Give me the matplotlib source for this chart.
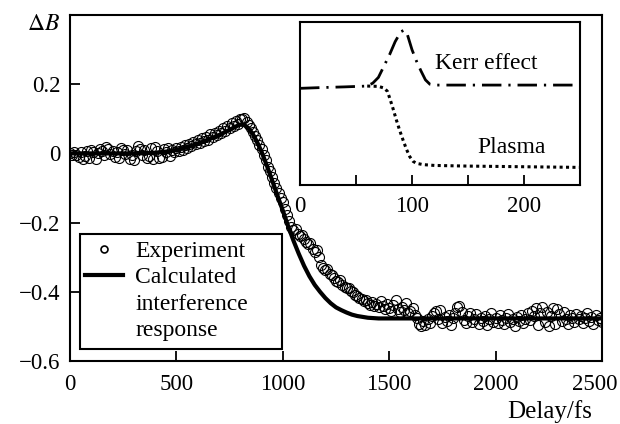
import matplotlib
matplotlib.use("Agg")
import matplotlib.pyplot as plt
from matplotlib.lines import Line2D
from matplotlib.patches import Rectangle
from matplotlib.transforms import ScaledTranslation

plt.rcParams['font.family'] = ['Liberation Serif', 'DejaVu Serif']
plt.rcParams['mathtext.fontset'] = 'stix'

# ---------------- data ----------------
exp_x = list(range(0, 2501, 10))
exp_y = [
    # 0 - 500
    0.002, -0.006, 0.005, -0.004, -0.010, 0.003, -0.015, -0.008, 0.006, -0.012,
    0.010, 0.004, -0.016, 0.002, 0.014, 0.008, -0.005, 0.018, 0.012, -0.003,
    0.006, -0.010, 0.004, -0.014, 0.016, 0.009, -0.002, 0.011, -0.015, -0.006,
    -0.018, 0.007, 0.020, 0.012, -0.004, 0.010, -0.012, -0.008, 0.015, -0.016,
    0.019, 0.006, -0.014, -0.009, 0.012, 0.003, 0.015, -0.008, 0.009, 0.004,
    0.016,
    # 510 - 800
    0.006, 0.018, 0.010, 0.024, 0.015, 0.028, 0.020, 0.034, 0.026, 0.038,
    0.030, 0.044, 0.035, 0.048, 0.040, 0.055, 0.046, 0.060, 0.052, 0.066,
    0.058, 0.072, 0.065, 0.080, 0.072, 0.088, 0.078, 0.095, 0.085, 0.100,
    # 810 - 1000
    0.098, 0.102, 0.090, 0.082, 0.072, 0.062, 0.050, 0.038, 0.025, 0.012,
    -0.005, -0.020, -0.038, -0.052, -0.068, -0.085, -0.100, -0.115, -0.128, -0.140,
    # 1010 - 1400
    -0.160, -0.178, -0.195, -0.212, -0.222, -0.218, -0.232, -0.240, -0.236, -0.248,
    -0.255, -0.262, -0.258, -0.275, -0.285, -0.280, -0.300, -0.322, -0.330, -0.338,
    -0.335, -0.348, -0.352, -0.360, -0.368, -0.372, -0.365, -0.380, -0.385, -0.390,
    -0.388, -0.398, -0.402, -0.408, -0.412, -0.418, -0.422, -0.428, -0.425, -0.432,
    # 1410 - 1700
    -0.438, -0.430, -0.442, -0.436, -0.445, -0.428, -0.440, -0.450, -0.435, -0.448,
    -0.455, -0.438, -0.425, -0.450, -0.458, -0.445, -0.452, -0.432, -0.460, -0.455,
    -0.448, -0.468, -0.475, -0.492, -0.498, -0.485, -0.495, -0.478, -0.490, -0.470,
    # 1710 - 2500
    -0.462, -0.455, -0.480, -0.452, -0.490, -0.472, -0.485, -0.468, -0.495, -0.475,
    -0.460, -0.445, -0.440, -0.458, -0.482, -0.490, -0.470, -0.462, -0.488, -0.478,
    -0.465, -0.492, -0.475, -0.485, -0.470, -0.496, -0.480, -0.462, -0.488, -0.475,
    -0.490, -0.468, -0.482, -0.494, -0.476, -0.465, -0.488, -0.478, -0.498, -0.472,
    -0.485, -0.466, -0.490, -0.478, -0.460, -0.482, -0.455, -0.470, -0.448, -0.495,
    -0.462, -0.445, -0.488, -0.458, -0.498, -0.470, -0.448, -0.492, -0.450, -0.465,
    -0.485, -0.458, -0.478, -0.492, -0.468, -0.475, -0.488, -0.465, -0.480, -0.470,
    -0.490, -0.476, -0.462, -0.485, -0.472, -0.492, -0.468, -0.482, -0.475, -0.488,
]

fit_x = [0, 100, 200, 300, 400, 450, 500, 550, 600, 650, 700, 750, 780, 800, 820,
         840, 860, 880, 900, 925, 950, 975, 1000, 1025, 1050, 1075, 1100, 1125,
         1150, 1175, 1200, 1225, 1250, 1275, 1300, 1325, 1350, 1400, 1450, 1500,
         2000, 2500]
fit_y = [0, 0, 0, 0, 0.002, 0.005, 0.01, 0.018, 0.028, 0.04, 0.053, 0.068, 0.078,
         0.083, 0.082, 0.072, 0.055, 0.032, 0.005, -0.035, -0.078, -0.122, -0.165,
         -0.21, -0.252, -0.29, -0.325, -0.355, -0.38, -0.40, -0.418, -0.433,
         -0.445, -0.453, -0.46, -0.466, -0.47, -0.475, -0.477, -0.477, -0.477, -0.477]

kerr_x = [0, 20, 40, 60, 65, 70, 75, 80, 85, 90, 93, 96, 100, 104, 108, 112, 116,
          120, 150, 200, 250]
kerr_y = [0.593, 0.598, 0.602, 0.607, 0.625, 0.66, 0.73, 0.80, 0.88, 0.94, 0.95,
          0.92, 0.83, 0.76, 0.70, 0.645, 0.618, 0.613, 0.613, 0.613, 0.613]

plasma_x = [60, 70, 75, 78, 80, 83, 86, 89, 92, 95, 98, 101, 104, 110, 120, 150,
            200, 250]
plasma_y = [0.607, 0.605, 0.595, 0.575, 0.535, 0.47, 0.40, 0.335, 0.276, 0.22,
            0.174, 0.145, 0.133, 0.125, 0.12, 0.116, 0.112, 0.108]

main_xticks = [0, 500, 1000, 1500, 2000, 2500]
main_yticks = [-0.6, -0.4, -0.2, 0, 0.2, 0.4]
main_yticklabels = ['\u22120.6', '\u22120.4', '\u22120.2', '0', '0.2', '']
inset_xticks = [0, 50, 100, 150, 200, 250]
inset_xticklabels = ['0', '', '100', '', '200', '']
legend_labels = ['Experiment', 'Calculated', 'interference', 'response']

FS = 16.5
TFS = 17

fig = plt.figure(figsize=(6.2, 4.24), dpi=100)
ax = fig.add_axes([70/620, 1-361/424, 532/620, 346/424])

ax.plot(fit_x, fit_y, color='black', lw=3.0, zorder=3)
ax.plot(exp_x, exp_y, linestyle='none', marker='o', ms=7.2, mfc='none',
        mec='black', mew=0.8, zorder=4)

ax.set_xlim(0, 2500)
ax.set_ylim(-0.6, 0.4)
ax.set_xticks(main_xticks)
ax.set_xticklabels([str(v) for v in main_xticks])
ax.set_yticks(main_yticks)
ax.set_yticklabels(main_yticklabels)
ax.tick_params(direction='in', length=7, width=1.3, labelsize=FS,
               top=False, right=False)
ax.tick_params(axis='x', pad=9)
ax.tick_params(axis='y', pad=7)
for s in ax.spines.values():
    s.set_linewidth(1.5)
last = ax.get_xticklabels()[-1]
last.set_transform(last.get_transform() + ScaledTranslation(-7/100, 0, fig.dpi_scale_trans))

handles = [
    Line2D([], [], linestyle='none', marker='o', ms=5, mfc='none', mec='black', mew=1.2),
    Line2D([], [], color='black', lw=3.0),
    Line2D([], [], linestyle='none'),
    Line2D([], [], linestyle='none'),
]
leg = ax.legend(handles, legend_labels, loc='upper left',
                bbox_to_anchor=(10/532, 125/346),
                borderaxespad=0, fontsize=TFS, frameon=False,
                handlelength=1.6, handletextpad=0.55,
                labelspacing=0.2, borderpad=0.2)
ax.add_patch(Rectangle((10/532, 12/346), 202/532, 115/346, transform=ax.transAxes,
                       fill=False, edgecolor='black', lw=1.5, zorder=5))

fig.text(27/620, 1-25/424, r'$\Delta B$', fontsize=17, ha='left', va='center')
fig.text(592/620, 1-412/424, 'Delay/fs', fontsize=18, ha='right', va='center')

# ---------------- inset ----------------
ins = fig.add_axes([300/620, 1-185/424, 280/620, 163/424])
ins.plot(kerr_x, kerr_y, color='black', lw=2.0,
         linestyle=(0, (7, 2.5, 0.8, 2.5)))
ins.plot(plasma_x, plasma_y, color='black', lw=2.2, linestyle=(0, (1, 1.1)))
ins.set_xlim(0, 250)
ins.set_ylim(0, 1)
ins.set_xticks(inset_xticks)
ins.set_xticklabels(inset_xticklabels)
ins.set_yticks([])
ins.tick_params(direction='in', length=7, width=1.3, labelsize=FS, pad=8)
for s in ins.spines.values():
    s.set_linewidth(1.5)
ins.text(120.5, 0.748, 'Kerr effect', fontsize=TFS, ha='left', va='center')
ins.text(158, 0.227, 'Plasma', fontsize=TFS, ha='left', va='center')

fig.savefig('out.png', dpi=100)
